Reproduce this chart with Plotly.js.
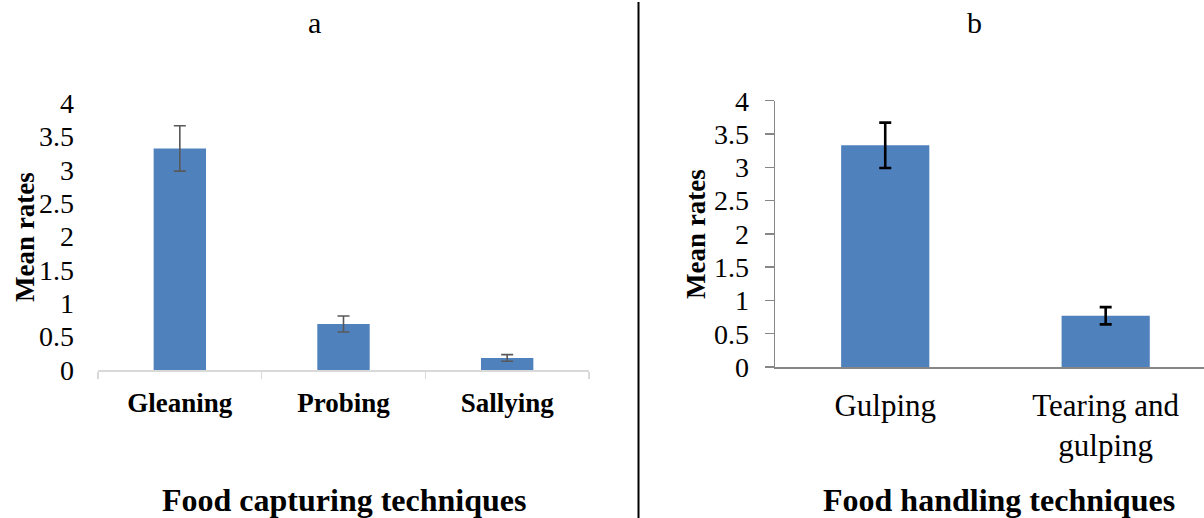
<!DOCTYPE html>
<html>
<head>
<meta charset="utf-8">
<script src="https://cdn.plot.ly/plotly-3.0.1.min.js"></script>
<style>html,body{margin:0;padding:0;background:#fff;}#chart{width:1204px;height:518px;}</style>
</head>
<body>
<div id="chart"></div>
<script>
// Panel a: food capturing techniques
const captureCategories = ["Gleaning", "Probing", "Sallying"];
const captureMeans = [3.32, 0.69, 0.18];
const captureErrors = [0.34, 0.12, 0.05];

// Panel b: food handling techniques
const handleCategories = ["Gulping", "Tearing and gulping"];
const handleTickLabels = ["Gulping", "Tearing and<br>gulping"];
const handleMeans = [3.33, 0.77];
const handleErrors = [0.34, 0.13];

const yTickVals = [0, 0.5, 1, 1.5, 2, 2.5, 3, 3.5, 4];
const yTickText = ["0", "0.5", "1", "1.5", "2", "2.5", "3", "3.5", "4"];

const W = 1204, H = 518;
const px = x => x / W;
const py = y => 1 - y / H;
const FONT = '"Liberation Serif", "Times New Roman", serif';
const BAR = "#4f81bd";

const traces = [
  {
    type: "bar", x: captureCategories, y: captureMeans,
    xaxis: "x", yaxis: "y",
    marker: {color: BAR},
    error_y: {type: "data", array: captureErrors, visible: true, color: "#595959", thickness: 1.6, width: 6},
    hoverinfo: "x+y", showlegend: false
  },
  {
    type: "bar", x: handleCategories, y: handleMeans,
    xaxis: "x2", yaxis: "y2",
    width: [0.4, 0.4],
    marker: {color: BAR},
    error_y: {type: "data", array: handleErrors, visible: true, color: "#000000", thickness: 2.6, width: 6},
    hoverinfo: "x+y", showlegend: false
  }
];

const layout = {
  width: W, height: H,
  margin: {l: 0, r: 0, t: 0, b: 0, pad: 0},
  paper_bgcolor: "#ffffff", plot_bgcolor: "rgba(0,0,0,0)",
  font: {family: FONT, color: "#000000"},
  bargap: 0.68,
  showlegend: false,
  xaxis: {
    domain: [px(98), px(589)], anchor: "y",
    type: "category", range: [-0.5, 2.5],
    showline: true, linecolor: "#d9d9d9", linewidth: 1.5,
    ticks: "outside", tickson: "boundaries", ticklen: 7, tickcolor: "#d9d9d9", tickwidth: 1.5,
    tickfont: {family: FONT, size: 27, weight: "bold", color: "#000"},
    ticklabelstandoff: 8,
    showgrid: false, zeroline: false, fixedrange: true
  },
  yaxis: {
    domain: [py(370), py(103)], anchor: "x",
    range: [0, 4], tickvals: yTickVals, ticktext: yTickText,
    showline: false, ticks: "", showgrid: false, zeroline: false,
    tickfont: {family: FONT, size: 28, color: "#000"},
    ticklabelstandoff: 23, fixedrange: true
  },
  xaxis2: {
    domain: [px(775), 1], anchor: "y2",
    type: "category", range: [-0.5, 1.446],
    tickvals: handleCategories, ticktext: handleTickLabels,
    showline: true, linecolor: "#868686", linewidth: 1.5,
    ticks: "", showgrid: false, zeroline: false,
    tickfont: {family: FONT, size: 31, color: "#000"},
    ticklabelstandoff: 10,
    fixedrange: true
  },
  yaxis2: {
    domain: [py(367), py(100.7)], anchor: "x2",
    range: [0, 4], tickvals: yTickVals, ticktext: yTickText,
    showline: true, linecolor: "#868686", linewidth: 1.5,
    ticks: "outside", ticklen: 9, tickcolor: "#868686", tickwidth: 1.5,
    ticklabelstandoff: 10,
    showgrid: false, zeroline: false,
    tickfont: {family: FONT, size: 28, color: "#000"},
    fixedrange: true
  },
  shapes: [
    {type: "line", xref: "paper", yref: "paper", x0: px(638.5), x1: px(638.5), y0: 0, y1: py(2), line: {color: "#000", width: 2}}
  ],
  annotations: [
    {text: "a", xref: "paper", yref: "paper", x: px(314), y: py(22), xanchor: "center", yanchor: "middle", showarrow: false, font: {family: FONT, size: 30, color: "#000"}},
    {text: "b", xref: "paper", yref: "paper", x: px(975), y: py(22), xanchor: "center", yanchor: "middle", showarrow: false, font: {family: FONT, size: 30, color: "#000"}},
    {text: "<b>Mean rates</b>", xref: "paper", yref: "paper", x: px(25), y: py(237), xanchor: "center", yanchor: "middle", textangle: -90, showarrow: false, font: {family: FONT, size: 27, color: "#000"}},
    {text: "<b>Mean rates</b>", xref: "paper", yref: "paper", x: px(696), y: py(234), xanchor: "center", yanchor: "middle", textangle: -90, showarrow: false, font: {family: FONT, size: 27, color: "#000"}},
    {text: "<b>Food capturing techniques</b>", xref: "paper", yref: "paper", x: px(344), y: py(500), xanchor: "center", yanchor: "middle", showarrow: false, font: {family: FONT, size: 32, color: "#000"}},
    {text: "<b>Food handling techniques</b>", xref: "paper", yref: "paper", x: px(999), y: py(500), xanchor: "center", yanchor: "middle", showarrow: false, font: {family: FONT, size: 32, color: "#000"}}
  ]
};

Plotly.newPlot("chart", traces, layout, {displayModeBar: false, staticPlot: true});
</script>
</body>
</html>
